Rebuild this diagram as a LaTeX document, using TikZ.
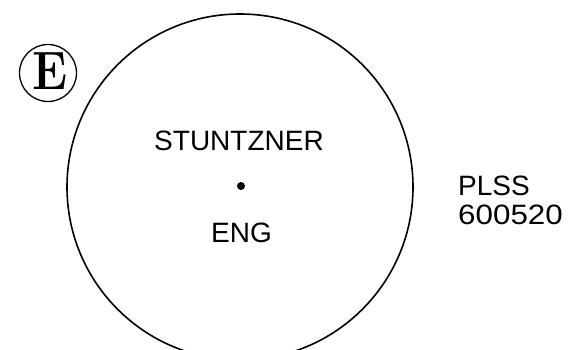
\documentclass[tikz,border=0pt]{standalone}
\usepackage{fontspec}
\setmainfont{Liberation Sans}
\newfontfamily\lmserif{Latin Modern Roman}
\begin{document}
\begin{tikzpicture}[x=1pt,y=-1pt,
  lbl/.style={anchor=base, inner sep=0pt, font=\fontsize{28}{30}\selectfont},
  lbll/.style={anchor=base west, inner sep=0pt, font=\fontsize{28}{30}\selectfont}]
\useasboundingbox (0,0) rectangle (571,350);
\clip (0,0) rectangle (571,350);
\fill[white] (0,0) rectangle (571,350);
% main circle
\draw[line width=1.6pt] (240,187) circle[radius=173];
\fill (241,186) circle[radius=4];
\node[lbl] (name) at (239,151) {STUNTZNER};
\node[lbl] (eng) at (241.5,243) {ENG};
\node[lbll] (plss) at (458,196) {PLSS};
\node[lbll, xscale=1.12] (num) at (458,225) {600520};
% circled E
\node[circle, draw, line width=1.3pt, minimum size=57pt, inner sep=0pt] (ecirc) at (48,73) {};
\node[inner sep=0pt, anchor=base, font=\lmserif\bfseries\fontsize{54}{56}\selectfont, xscale=0.88] (eletter) at (50.5,90) {E};
\end{tikzpicture}
\end{document}
